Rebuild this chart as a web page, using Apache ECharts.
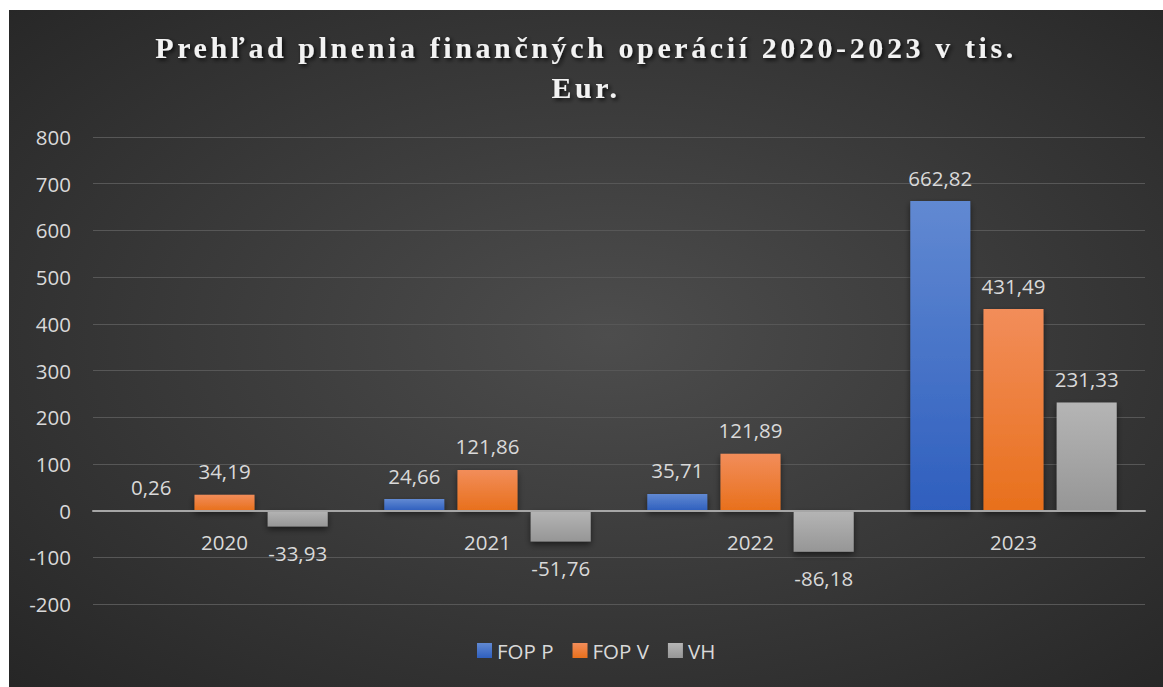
<!DOCTYPE html>
<html>
<head>
<meta charset="utf-8">
<script src="https://cdn.jsdelivr.net/npm/echarts@6/dist/echarts.min.js"></script>
<style>
  html, body { margin: 0; padding: 0; background: #fff; }
  #chart { position: absolute; left: 9px; top: 10px; width: 1154px; height: 677px; }
  /* title in the reference is letter-spaced */
  #chart text[style*="Serif"] { letter-spacing: 3.6px; }
</style>
</head>
<body>
<div id="chart"></div>
<script>
const years = ['2020', '2021', '2022', '2023'];
const seriesNames = ['FOP P', 'FOP V', 'VH'];

// bar heights as drawn in the picture
const fopP = [0.26, 24.66, 35.71, 662.82];
const fopV = [34.19, 87, 121.89, 431.49];
const vh = [-33.93, -66, -88, 231.33];

// data label texts as printed
const fopPLabels = ['0,26', '24,66', '35,71', '662,82'];
const fopVLabels = ['34,19', '121,86', '121,89', '431,49'];
const vhLabels = ['-33,93', '-51,76', '-86,18', '231,33'];

const yTicks = { min: -200, max: 800, step: 100 };

const textColor = '#d9d9d9';
const labelFont = '"Open Sans", "Noto Sans", sans-serif';
const fs = 20.5;

const grad = (top, bottom) => new echarts.graphic.LinearGradient(0, 0, 0, 1, [
  { offset: 0, color: top },
  { offset: 1, color: bottom }
]);

const colors = [
  grad('#6189d2', '#2f5fbe'),
  grad('#f28d5a', '#e8701c'),
  grad('#b5b5b5', '#969696')
];
const legendColors = ['#4472c4', '#ed7d31', '#a5a5a5'];

function makeSeries(name, values, labels, idx) {
  return {
    name: name,
    type: 'bar',
    barWidth: 60,
    barGap: '22%',
    itemStyle: {
      color: colors[idx],
      shadowColor: 'rgba(0,0,0,0.55)',
      shadowBlur: 6,
      shadowOffsetY: 3
    },
    data: values.map((v, i) => ({
      value: v,
      label: {
        show: true,
        position: v < 0 ? 'bottom' : 'top',
        distance: v < 0 ? 16 : 13,
        formatter: labels[i],
        color: textColor,
        fontSize: fs,
        fontFamily: labelFont
      }
    }))
  };
}

const chart = echarts.init(document.getElementById('chart'), null, { renderer: 'svg' });

// distance in px between the bottom of the grid and the zero line
const plotH = 677 - 127 - 83;
const zeroOffset = plotH * (0 - yTicks.min) / (yTicks.max - yTicks.min);

chart.setOption({
  backgroundColor: new echarts.graphic.RadialGradient(0.52, 0.48, 0.75, [
    { offset: 0, color: '#4d4d4d' },
    { offset: 1, color: '#252525' }
  ]),
  color: legendColors,
  title: {
    text: 'Prehľad plnenia finančných operácií 2020-2023 v tis.\nEur.',
    left: 'center',
    top: 12,
    padding: [5, 0, 5, 14],
    textStyle: {
      color: '#f2f2f2',
      fontFamily: '"Liberation Serif", "DejaVu Serif", serif',
      fontWeight: 'bold',
      fontSize: 30,
      lineHeight: 40,
      textShadowColor: 'rgba(0,0,0,0.8)',
      textShadowBlur: 4,
      textShadowOffsetX: 2,
      textShadowOffsetY: 2
    }
  },
  legend: {
    bottom: 21,
    left: 463,
    itemWidth: 15,
    itemHeight: 15,
    itemGap: 19,
    icon: 'rect',
    textStyle: { color: textColor, fontSize: fs, fontFamily: labelFont },
    data: seriesNames.map((n, i) => ({ name: n, itemStyle: { color: colors[i] } }))
  },
  grid: { left: 84, right: 18, top: 127, bottom: 83 },
  xAxis: {
    type: 'category',
    data: years,
    offset: -zeroOffset,
    axisLine: { onZero: false, lineStyle: { color: '#a6a6a6', width: 2 } },
    axisTick: { show: false },
    axisLabel: { color: textColor, fontSize: fs, fontFamily: labelFont, margin: 21 },
    z: 3
  },
  yAxis: {
    type: 'value',
    min: yTicks.min,
    max: yTicks.max,
    interval: yTicks.step,
    axisLine: { show: false },
    axisTick: { show: false },
    axisLabel: { color: textColor, fontSize: fs, fontFamily: labelFont, margin: 22 },
    splitLine: { lineStyle: { color: '#575757', width: 1 } }
  },
  series: [
    makeSeries(seriesNames[0], fopP, fopPLabels, 0),
    makeSeries(seriesNames[1], fopV, fopVLabels, 1),
    makeSeries(seriesNames[2], vh, vhLabels, 2)
  ]
});
</script>
</body>
</html>
